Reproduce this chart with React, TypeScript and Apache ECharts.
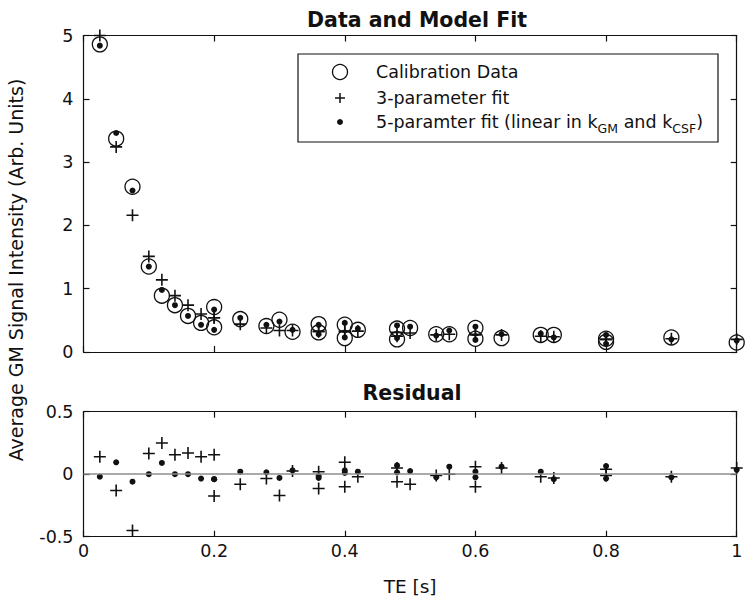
import React, { useEffect, useRef } from "react";
import * as echarts from "echarts";

// TE values [s] for each calibration point
const te = [0.025, 0.05, 0.075, 0.1, 0.12, 0.14, 0.16, 0.18, 0.2, 0.2, 0.24, 0.28, 0.3, 0.32, 0.36, 0.36, 0.4, 0.4, 0.42, 0.48, 0.48, 0.5, 0.54, 0.56, 0.6, 0.6, 0.64, 0.7, 0.72, 0.8, 0.8, 0.9, 1.0];
// Calibration data (Arb. Units)
const calib = [4.86, 3.37, 2.61, 1.35, 0.89, 0.74, 0.57, 0.46, 0.71, 0.39, 0.52, 0.41, 0.51, 0.32, 0.44, 0.31, 0.43, 0.22, 0.35, 0.37, 0.2, 0.38, 0.28, 0.28, 0.38, 0.21, 0.22, 0.27, 0.27, 0.21, 0.16, 0.23, 0.15];
// 3-parameter fit
const fit3 = [5.0, 3.24, 2.16, 1.51, 1.14, 0.89, 0.74, 0.6, 0.54, 0.54, 0.44, 0.38, 0.34, 0.34, 0.32, 0.33, 0.33, 0.32, 0.33, 0.31, 0.25, 0.3, 0.27, 0.28, 0.28, 0.27, 0.27, 0.25, 0.24, 0.2, 0.2, 0.21, 0.2];
// 5-parameter fit
const fit5 = [4.84, 3.46, 2.55, 1.35, 0.98, 0.74, 0.57, 0.43, 0.67, 0.35, 0.54, 0.43, 0.48, 0.35, 0.43, 0.28, 0.46, 0.23, 0.37, 0.42, 0.22, 0.4, 0.26, 0.34, 0.4, 0.19, 0.28, 0.29, 0.23, 0.27, 0.13, 0.2, 0.18];
// Residuals (fit - data)
const res3 = [0.14, -0.13, -0.45, 0.165, 0.25, 0.155, 0.17, 0.14, -0.175, 0.155, -0.08, -0.035, -0.17, 0.025, -0.115, 0.02, -0.1, 0.095, -0.02, -0.06, 0.05, -0.08, -0.01, 0.0, -0.1, 0.06, 0.05, -0.02, -0.03, -0.01, 0.04, -0.02, 0.05];
const res5 = [-0.02, 0.095, -0.06, 0.0, 0.09, 0.0, 0.0, -0.035, -0.04, -0.04, 0.02, 0.015, -0.03, 0.03, -0.015, -0.03, 0.03, 0.01, 0.02, 0.07, 0.015, 0.025, -0.025, 0.06, 0.02, -0.025, 0.06, 0.02, -0.04, 0.065, -0.035, -0.025, 0.035];

const legendLabels = ["Calibration Data", "3-parameter fit", "5-paramter fit (linear in k{sub|GM} and k{sub|CSF})"];

const FONT = "DejaVu Sans";
const INK = "#111";
const PLUS = "path://M5.2,0H6.8V5.2H12V6.8H6.8V12H5.2V6.8H0V5.2H5.2Z";

const pairs = (ys: number[]) => te.map((x, i) => [x, ys[i]]);

export default function App() {
  const ref = useRef<HTMLDivElement>(null);
  useEffect(() => {
    document.body.style.margin = "0";
    const chart = echarts.init(ref.current!, null, { renderer: "svg" });
    const axisLine = { show: true, onZero: false, lineStyle: { color: INK, width: 1.2 } };
    const tick = { show: true, inside: true, length: 6, lineStyle: { color: INK, width: 1.2 } };
    const label = { color: INK, fontFamily: FONT, fontSize: 17.5 };
    const xBase = (grid: number, pos: string, showLabel: boolean) => ({
      type: "value",
      gridIndex: grid,
      position: pos,
      min: 0,
      max: 1,
      interval: 0.2,
      axisLine,
      axisTick: tick,
      splitLine: { show: false },
      axisLabel: { ...label, show: showLabel, margin: 5, formatter: (v: number) => String(+v.toFixed(1)) },
    });
    const yBase = (grid: number, pos: string, showLabel: boolean, min: number, max: number, interval: number) => ({
      type: "value",
      gridIndex: grid,
      position: pos,
      min,
      max,
      interval,
      axisLine,
      axisTick: tick,
      splitLine: { show: false },
      axisLabel: { ...label, show: showLabel, margin: 10, formatter: (v: number) => String(+v.toFixed(1)) },
    });
    const lx = 340;
    const rows = [72, 98, 122];
    const dot = { color: INK, opacity: 1 };
    chart.setOption({
      animation: false,
      backgroundColor: "#fff",
      title: [
        { text: "Data and Model Fit", left: 412, top: 4, textAlign: "center", textStyle: { fontFamily: FONT, fontSize: 20.5, fontWeight: "bold", color: INK } },
        { text: "Residual", left: 407, top: 377, textAlign: "center", textStyle: { fontFamily: FONT, fontSize: 20.5, fontWeight: "bold", color: INK } },
      ],
      grid: [
        { left: 83.5, right: 13.3, top: 35.5, height: 316.5, outerBoundsMode: "none" },
        { left: 83.5, right: 13.3, top: 411.7, height: 125, outerBoundsMode: "none" },
      ],
      xAxis: [
        xBase(0, "bottom", false),
        xBase(0, "top", false),
        { ...xBase(1, "bottom", true), name: "TE [s]", nameLocation: "middle", nameGap: 40, nameTextStyle: { fontFamily: FONT, fontSize: 18.5, color: INK } },
        xBase(1, "top", false),
      ],
      yAxis: [
        yBase(0, "left", true, 0, 5, 1),
        yBase(0, "right", false, 0, 5, 1),
        yBase(1, "left", true, -0.5, 0.5, 0.5),
        yBase(1, "right", false, -0.5, 0.5, 0.5),
      ],
      series: [
        {
          name: "Calibration Data", type: "scatter", xAxisIndex: 0, yAxisIndex: 0,
          symbol: "circle", symbolSize: 15,
          itemStyle: { color: "none", borderColor: INK, borderWidth: 1.3, opacity: 1 },
          data: pairs(calib),
        },
        {
          name: "3-parameter fit", type: "scatter", xAxisIndex: 0, yAxisIndex: 0,
          symbol: PLUS, symbolSize: 12, itemStyle: dot,
          data: pairs(fit3),
        },
        {
          name: "5-paramter fit", type: "scatter", xAxisIndex: 0, yAxisIndex: 0,
          symbol: "circle", symbolSize: 6, itemStyle: dot,
          data: pairs(fit5),
        },
        {
          name: "3-parameter residual", type: "scatter", xAxisIndex: 2, yAxisIndex: 2,
          symbol: PLUS, symbolSize: 12, itemStyle: dot,
          data: pairs(res3),
          markLine: {
            silent: true, symbol: "none", label: { show: false },
            lineStyle: { color: "#8c8c8c", width: 1.5, type: "solid" },
            data: [{ yAxis: 0 }],
          },
        },
        {
          name: "5-parameter residual", type: "scatter", xAxisIndex: 2, yAxisIndex: 2,
          symbol: "circle", symbolSize: 6, itemStyle: dot,
          data: pairs(res5),
        },
      ],
      graphic: [
        { type: "rect", shape: { x: 298, y: 54, width: 420, height: 88 }, style: { fill: "#fff", stroke: INK, lineWidth: 1.2 }, z: 10 },
        { type: "circle", shape: { cx: lx, cy: rows[0], r: 7.5 }, style: { fill: "none", stroke: INK, lineWidth: 1.3 }, z: 11 },
        { type: "line", shape: { x1: lx - 5, y1: rows[1], x2: lx + 5, y2: rows[1] }, style: { stroke: INK, lineWidth: 1.5 }, z: 11 },
        { type: "line", shape: { x1: lx, y1: rows[1] - 5, x2: lx, y2: rows[1] + 5 }, style: { stroke: INK, lineWidth: 1.5 }, z: 11 },
        { type: "circle", shape: { cx: lx, cy: rows[2], r: 3 }, style: { fill: INK }, z: 11 },
        ...legendLabels.map((t, i) => ({
          type: "text", x: 376, y: rows[i], z: 11,
          style: {
            text: t, fill: INK, fontFamily: FONT, fontSize: 17.5, verticalAlign: "middle", align: "left",
            rich: { sub: { fontFamily: FONT, fontSize: 12.5, fill: INK, padding: [12, 0, 0, 0] } },
          },
        })),
        {
          type: "text", x: 16, y: 270, rotation: Math.PI / 2,
          style: { text: "Average GM Signal Intensity (Arb. Units)", fill: INK, fontFamily: FONT, fontSize: 19, align: "center", verticalAlign: "middle" },
        },
      ],
    });
    return () => chart.dispose();
  }, []);
  return <div ref={ref} style={{ width: 750, height: 604 }} />;
}
